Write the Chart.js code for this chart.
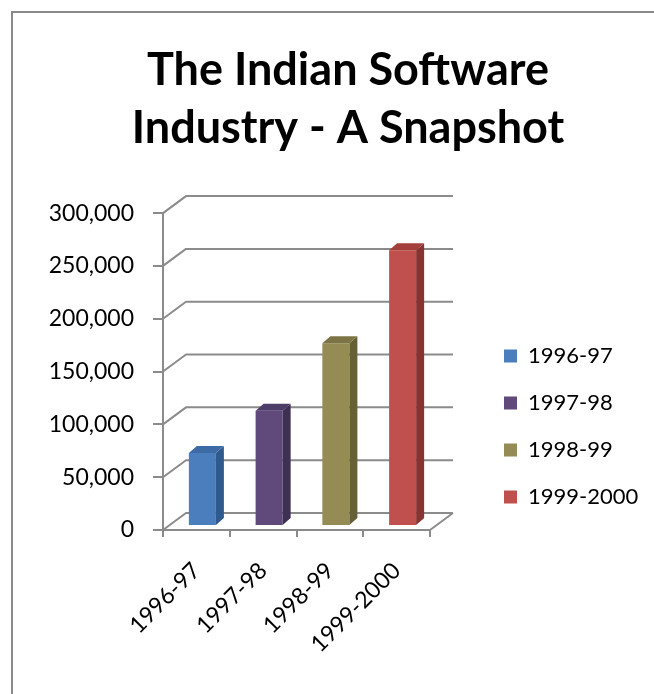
<!DOCTYPE html>
<html>
<head>
<meta charset="utf-8">
<title>The Indian Software Industry - A Snapshot</title>
<script src="https://cdn.jsdelivr.net/npm/chart.js@4.4.1/dist/chart.umd.min.js"></script>
<style>
  html, body { margin: 0; padding: 0; background: #fff; overflow: hidden; }
  #frame {
    position: absolute; left: 11px; top: 11px;
    width: 700px; height: 720px;
    border-left: 2px solid #898989; border-top: 2px solid #898989;
  }
  #wrap { position: absolute; left: 0; top: 0; width: 654px; height: 694px; }
</style>
</head>
<body>
<div id="frame"></div>
<div id="wrap"><canvas id="chart"></canvas></div>
<script>
// Revenue by year (values on the 0 - 300,000 scale)
const categories = ['1996-97', '1997-98', '1998-99', '1999-2000'];
const revenue = [69000, 109000, 173000, 261000];
const yTicks = [0, 50000, 100000, 150000, 200000, 250000, 300000];

// Face colours of each column: front, side, top
const frontColors = ['#4a7ebd', '#5f4a7b', '#958b54', '#c0504d'];
const sideColors = ['#2f5a8d', '#3e3053', '#676037', '#873331'];
const topColors = ['#3d6ba6', '#4e3d68', '#7d7445', '#a33e3b'];

const GRID = '#8b8b8b';
const FONT = 'Lato, "Open Sans", sans-serif';
const PLOT_LEFT = 163;     // front edge of the left wall
const PLOT_RIGHT = 430;    // front edge of the floor, right end
const PLOT_BOTTOM = 530;
const PAD_LEFT = 42;
const LEGEND_LEFT = 479;
const LEGEND_TOP = 320;
const WALL = { dx: 23, dy: -17 };    // depth of the walls/floor
const BAR_SHIFT = { dx: 6, dy: -4 }; // columns sit a little inside the floor
const BAR_DEPTH = { dx: 8, dy: -7 };

// Draws the back wall, side-wall diagonals and floor, and the 3D faces of the columns
const depthBox = {
  id: 'depthBox',
  afterLayout(chart) {
    const lg = chart.legend;
    if (!lg) return;
    lg.left = LEGEND_LEFT;
    lg.right = LEGEND_LEFT + lg.width;
    lg.top = LEGEND_TOP;
    lg.bottom = LEGEND_TOP + lg.height;
  },
  beforeDatasetsDraw(chart) {
    const { ctx, chartArea: a, scales: { y } } = chart;
    ctx.save();
    ctx.strokeStyle = GRID;
    ctx.lineWidth = 2;
    ctx.lineJoin = 'round';
    ctx.beginPath();
    yTicks.forEach(v => {
      const py = y.getPixelForValue(v);
      ctx.moveTo(a.left, py);
      ctx.lineTo(a.left + WALL.dx, py + WALL.dy);
      ctx.lineTo(a.right + WALL.dx, py + WALL.dy);
    });
    ctx.moveTo(a.right, a.bottom);
    ctx.lineTo(a.right + WALL.dx, a.bottom + WALL.dy);
    ctx.stroke();
    ctx.restore();
    ctx.save();
    ctx.translate(BAR_SHIFT.dx, BAR_SHIFT.dy);
  },
  afterDatasetsDraw(chart) {
    const { ctx } = chart;
    const meta = chart.getDatasetMeta(0);
    meta.data.forEach((bar, i) => {
      const { x, y, base, width } = bar.getProps(['x', 'y', 'base', 'width'], true);
      const l = x - width / 2, r = x + width / 2;
      const { dx, dy } = BAR_DEPTH;
      ctx.fillStyle = sideColors[i];
      ctx.beginPath();
      ctx.moveTo(r, y);
      ctx.lineTo(r + dx, y + dy);
      ctx.lineTo(r + dx, base + dy);
      ctx.lineTo(r, base);
      ctx.closePath();
      ctx.fill();
      ctx.fillStyle = topColors[i];
      ctx.beginPath();
      ctx.moveTo(l, y);
      ctx.lineTo(l + dx, y + dy);
      ctx.lineTo(r + dx, y + dy);
      ctx.lineTo(r, y);
      ctx.closePath();
      ctx.fill();
    });
    ctx.restore();
  }
};

new Chart(document.getElementById('chart'), {
  type: 'bar',
  data: {
    labels: categories,
    datasets: [{
      data: revenue,
      backgroundColor: frontColors,
      borderWidth: 0,
      categoryPercentage: 1,
      barPercentage: 0.405,
      clip: false
    }]
  },
  options: {
    responsive: true,
    maintainAspectRatio: false,
    animation: false,
    events: [],
    layout: { padding: { left: PAD_LEFT, right: 0, top: 0, bottom: 0 } },
    plugins: {
      title: {
        display: true,
        text: ['The Indian Software', 'Industry - A Snapshot'],
        color: '#000',
        font: { family: FONT, size: 45, weight: 'bold', lineHeight: 1.29 },
        padding: { top: 41, bottom: 56 }
      },
      legend: {
        display: true,
        position: 'right',
        align: 'start',
        maxWidth: 220,
        labels: {
          color: '#000',
          font: { family: FONT, size: 22 },
          boxWidth: 13,
          boxHeight: 13,
          padding: 25,
          generateLabels: () => categories.map((c, i) => ({
            text: c,
            fillStyle: frontColors[i],
            strokeStyle: frontColors[i],
            lineWidth: 0,
            hidden: false,
            index: i
          }))
        }
      },
      tooltip: { enabled: false }
    },
    scales: {
      x: {
        offset: true,
        grid: { display: true, drawOnChartArea: false, offset: true, color: GRID, lineWidth: 2, tickLength: 7 },
        border: { display: true, color: GRID, width: 2 },
        ticks: {
          color: '#000',
          font: { family: FONT, size: 23 },
          maxRotation: 45,
          minRotation: 45,
          autoSkip: false,
          padding: 20
        },
        afterFit: s => { s.height = 694 - PLOT_BOTTOM; }
      },
      y: {
        min: 0,
        max: 300000,
        grid: { display: true, drawOnChartArea: false, color: GRID, lineWidth: 2, tickLength: 10 },
        border: { display: true, color: GRID, width: 2 },
        ticks: {
          stepSize: 50000,
          color: '#000',
          font: { family: FONT, size: 23 },
          padding: 19,
          callback: v => v.toLocaleString('en-US')
        },
        afterFit: s => { s.width = PLOT_LEFT - PAD_LEFT; }
      },
      gap: {
        type: 'linear',
        position: 'right',
        display: true,
        grid: { display: false },
        border: { display: false },
        ticks: { display: false },
        afterFit: s => {
          const lg = s.chart.legend ? s.chart.legend.width : 0;
          s.width = Math.max(0, s.chart.width - lg - PLOT_RIGHT);
        }
      }
    }
  },
  plugins: [depthBox]
});
</script>
</body>
</html>
